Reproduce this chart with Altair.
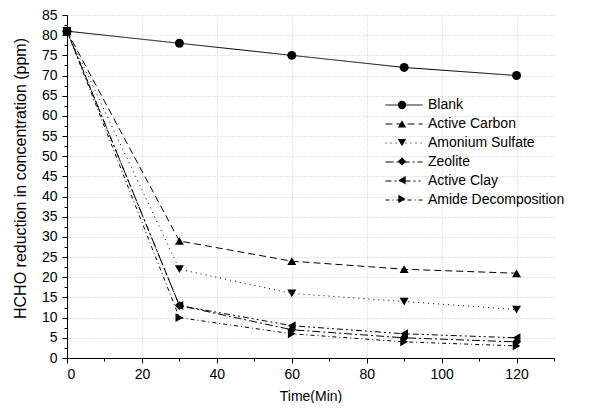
import altair as alt
import pandas as pd

times = [0, 30, 60, 90, 120]
series_names = ["Blank", "Active Carbon", "Amonium Sulfate", "Zeolite", "Active Clay", "Amide Decomposition"]
marker_keys = ["m0", "m1", "m2", "m3", "m4", "m5"]
blank = [81, 78, 75, 72, 70]
active_carbon = [81, 29, 24, 22, 21]
amonium_sulfate = [81, 22, 16, 14, 12]
zeolite = [81, 13, 7, 5, 4]
active_clay = [81, 13, 8, 6, 5]
amide_decomposition = [81, 10, 6, 4, 3]

all_values = [blank, active_carbon, amonium_sulfate, zeolite, active_clay, amide_decomposition]
dashes = [[1, 0], [7, 4], [1, 4], [8, 3, 2, 3], [6, 3, 2, 3, 2, 3], [4, 3, 1, 3]]
shapes = ["circle", "triangle-up", "triangle-down", "diamond", "triangle-left", "triangle-right"]

rows = []
for name, key, vals in zip(series_names, marker_keys, all_values):
    for t, v in zip(times, vals):
        rows.append({"Time": t, "Value": v, "Series": name, "Marker": key})
df = pd.DataFrame(rows)

FONT = "Liberation Sans"

x_ticks = list(range(0, 131, 10))
y_ticks = [i * 2.5 for i in range(0, 35)]

x_enc = alt.X(
    "Time:Q",
    scale=alt.Scale(domain=[0, 130], nice=False, zero=False),
    axis=alt.Axis(
        title="Time(Min)",
        values=x_ticks,
        labelExpr="datum.value % 20 === 0 && datum.value <= 120 ? datum.label : ''",
        tickSize={"condition": {"test": "datum.value % 20 === 0", "value": 5}, "value": 3},
        gridOpacity={"condition": {"test": "datum.value % 20 === 0 && datum.value > 0 && datum.value <= 120", "value": 1}, "value": 0},
        grid=True,
        gridColor="#c8c8c8",
        gridDash=[1, 2],
        domainColor="black",
        tickColor="black",
        labelColor="black",
        titleColor="black",
        labelFont=FONT,
        labelFontSize=14,
        titleFont=FONT,
        titleFontSize=14,
        titleFontWeight="normal",
        labelPadding=4,
        titlePadding=8,
    ),
)
y_enc = alt.Y(
    "Value:Q",
    scale=alt.Scale(domain=[0, 85], nice=False, zero=True),
    axis=alt.Axis(
        title="HCHO  reduction in concentration (ppm)",
        values=y_ticks,
        labelExpr="datum.value % 5 === 0 ? datum.label : ''",
        tickSize={"condition": {"test": "datum.value % 5 === 0", "value": 5}, "value": 3},
        gridOpacity={"condition": {"test": "datum.value % 5 === 0 && datum.value > 0", "value": 1}, "value": 0},
        grid=True,
        gridColor="#c8c8c8",
        gridDash=[1, 2],
        domainColor="black",
        tickColor="black",
        labelColor="black",
        titleColor="black",
        labelFont=FONT,
        labelFontSize=14,
        titleFont=FONT,
        titleFontSize=16,
        titleFontWeight="normal",
        labelPadding=5,
        titlePadding=13,
        titleY=163,
    ),
)

lines = alt.Chart(df).mark_line(color="black", strokeWidth=1).encode(
    x=x_enc,
    y=y_enc,
    strokeDash=alt.StrokeDash(
        "Series:N",
        scale=alt.Scale(domain=series_names, range=dashes),
        legend=alt.Legend(
            title=None,
            orient="none",
            legendX=330,
            legendY=83,
            padding=0,
            rowPadding=5,
            symbolType="M-3,0H3",
            symbolSize=152,
            symbolStrokeWidth=1,
            symbolStrokeColor="black",
            labelFont=FONT,
            labelFontSize=14,
            labelColor="black",
            labelOffset=17,
            labelLimit=300,
        ),
    ),
)

points = alt.Chart(df).mark_point(filled=True, color="black", size=80, opacity=1).encode(
    x=x_enc,
    y=y_enc,
    shape=alt.Shape(
        "Marker:N",
        scale=alt.Scale(domain=marker_keys, range=shapes),
        legend=alt.Legend(
            title=None,
            orient="none",
            legendX=330,
            legendY=85,
            padding=0,
            rowPadding=2.8,
            gridAlign="all",
            symbolSize=70,
            symbolFillColor="black",
            symbolStrokeColor="black",
            labelExpr="''",
            labelOffset=0,
        ),
    ),
)

chart = (
    alt.layer(lines, points)
    .properties(
        width=487,
        height=343,
        autosize=alt.AutoSizeParams(type="none"),
        padding={"left": 59, "top": 7, "right": 27, "bottom": 45},
        background="white",
    )
    .configure_view(stroke=None)
)

chart.save("out.html", embed_options={"renderer": "svg", "actions": False})
